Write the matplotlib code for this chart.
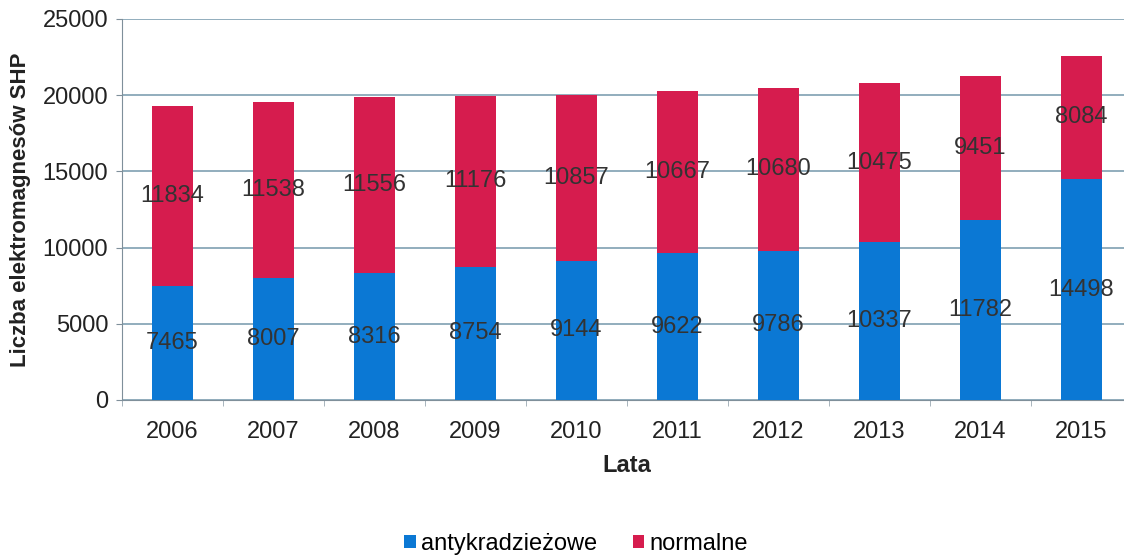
import numpy as np
import matplotlib.pyplot as plt

plt.rcParams['font.family'] = ['Liberation Sans', 'DejaVu Sans']

years = ['2006', '2007', '2008', '2009', '2010', '2011', '2012', '2013', '2014', '2015']
antykradziezowe = [7465, 8007, 8316, 8754, 9144, 9622, 9786, 10337, 11782, 14498]
normalne = [11834, 11538, 11556, 11176, 10857, 10667, 10680, 10475, 9451, 8084]
yticks = [0, 5000, 10000, 15000, 20000, 25000]

blue = '#0b78d4'
red = '#d61c4e'

fig = plt.figure(figsize=(11.24, 5.56), dpi=100)
ax = fig.add_axes([122 / 1124, 1 - 400 / 556, 1010 / 1124, 381 / 556])

x = np.arange(len(years))
width = 0.41
b1 = ax.bar(x, antykradziezowe, width, color=blue, label='antykradzieżowe', zorder=3)
b2 = ax.bar(x, normalne, width, bottom=antykradziezowe, color=red, label='normalne', zorder=3)

for i in range(len(years)):
    ax.text(x[i], antykradziezowe[i] / 2, str(antykradziezowe[i]), ha='center', va='center',
            fontsize=17, color='#333333', zorder=4)
    ax.text(x[i], antykradziezowe[i] + normalne[i] / 2, str(normalne[i]), ha='center', va='center',
            fontsize=17, color='#333333', zorder=4)

ax.set_xlim(-0.5, len(years) - 0.5)
ax.set_ylim(0, 25000)
ax.set_yticks(yticks)
ax.set_yticklabels([str(v) for v in yticks], fontsize=17, color='#222222')
ax.set_xticks(x)
ax.set_xticklabels(years, fontsize=17, color='#222222')
ax.tick_params(axis='x', length=0, pad=15)
ax.set_xticks(np.arange(-0.5, len(years), 1), minor=True)
ax.tick_params(axis='x', which='minor', length=4, color='#9aa8b2')
ax.tick_params(axis='y', length=4, color='#7f8f9a', pad=6)
ax.yaxis.grid(True, color='#7f9fb2', linewidth=1.2, zorder=0)

for s in ['top', 'right']:
    ax.spines[s].set_visible(False)
ax.spines['left'].set_color('#7f8f9a')
ax.spines['bottom'].set_color('#7f8f9a')

ax.set_ylabel('Liczba elektromagnesów SHP', fontsize=16, fontweight='bold', color='#222222', labelpad=8)
ax.set_xlabel('Lata', fontsize=17, fontweight='bold', color='#222222', labelpad=8)

fig.legend(handles=[b1, b2], loc='center', bbox_to_anchor=(576 / 1124, 1 - 544 / 556), ncol=2,
           frameon=False, fontsize=17, handlelength=0.5, handleheight=0.5, handletextpad=0.2,
           columnspacing=1.5)

fig.savefig('out.png', dpi=100)
